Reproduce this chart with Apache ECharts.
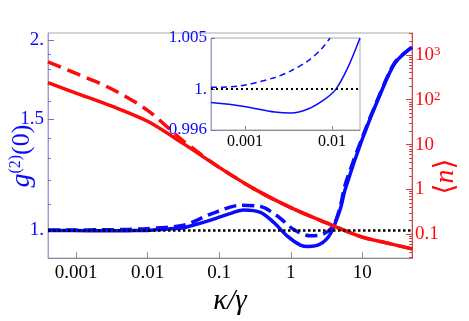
<!DOCTYPE html>
<html>
<head>
<meta charset="utf-8">
<script src="https://cdn.jsdelivr.net/npm/echarts@6/dist/echarts.min.js"></script>
<style>
  html, body { margin: 0; padding: 0; background: #fff; }
  #wrap { position: relative; width: 469px; height: 321px; }
  #chart, #inset { position: absolute; left: 0; top: 0; width: 469px; height: 321px; }
  #inset { pointer-events: none; }
</style>
</head>
<body>
<div id="wrap">
  <div id="chart"></div>
  <div id="inset"></div>
</div>
<script>
// g2(0) curves (kappa/gamma, value)
const kappaG2Solid = [0.000406, 0.0009, 0.00221, 0.00338, 0.0053, 0.0083, 0.0111, 0.0153, 0.021,
  0.032, 0.076, 0.159, 0.219, 0.378, 0.573, 0.897, 1.36, 1.76, 2.58, 3.56, 4.91, 5.75, 9.93, 17.7, 28.6, 49.4];
const g2Solid = [0.99868, 0.99835, 0.99776, 0.99766, 0.99805, 0.99902, 1.0, 1.00215, 1.005,
  1.009, 1.037, 1.067, 1.0764, 1.067, 1.0295, 0.9785, 0.947, 0.9418, 0.9504, 0.9856, 1.079, 1.16, 1.392, 1.64, 1.84, 1.95];

const kappaG2Dashed = [0.000406, 0.0009, 0.00221, 0.00338, 0.0053, 0.0075, 0.0095,
  0.032, 0.076, 0.199, 0.378, 0.65, 1.086, 1.87, 2.84, 3.92, 4.91, 5.75, 9.93, 17.7, 28.6, 49.4];
const g2Dashed = [1.00017, 1.00032, 1.00114, 1.00179, 1.00276, 1.0039, 1.005,
  1.018, 1.06, 1.095, 1.09, 1.053, 1.0036, 0.9795, 0.9856, 1.0157, 1.09, 1.18, 1.40, 1.645, 1.845, 1.95];

// mean photon number <n>
const kappaN = [0.000406, 0.001, 0.00316, 0.01, 0.0316, 0.1, 0.316, 1, 3.16, 10, 20, 49.4];
const nSolid = [240, 141, 72, 33, 10.5, 3.1, 1.0, 0.39, 0.178, 0.086, 0.066, 0.047];
const nDashed = [700, 385, 174, 58, 12, 3.1, 1.0, 0.39, 0.178, 0.086, 0.066, 0.047];

// inset uses the low-kappa part of the g2 curves
const insetSolidCount = 9;
const insetDashedCount = 7;

// ticks
const xTicks = [0.001, 0.01, 0.1, 1, 10];
const xTickLabels = ['0.001', '0.01', '0.1', '1', '10'];
const gTicks = [1, 1.5, 2];
const gTickLabels = ['1.', '1.5', '2.'];
const gMinorTicks = [1.1, 1.2, 1.3, 1.4, 1.6, 1.7, 1.8, 1.9];
const nTicks = [0.1, 1, 10, 100, 1000];
const nTickLabels = ['0.1', '1', '10', '{b|10}{s|2}', '{b|10}{s|3}'];
const insetXTicks = [0.001, 0.01];
const insetXTickLabels = ['0.001', '0.01'];
const insetYTicks = [0.996, 1, 1.005];
const insetYTickLabels = ['0.996', '1.', '1.005'];

const xMin = 0.000406, xMax = 49.4;
const gMin = 0.903, gMax = 2.053;
const nMin = 0.0293, nMax = 3080;

const BLUE = '#0a0aff';
const RED = '#ff0a0a';
const SERIF = 'Liberation Serif, DejaVu Serif, serif';

function logMinor(lo, hi) {
  const out = [];
  for (let e = -5; e <= 4; e++) {
    for (let m = 2; m <= 9; m++) {
      const v = m * Math.pow(10, e);
      if (v > lo && v < hi) out.push(v);
    }
  }
  return out;
}
function pick(values, labels) {
  return function (v) {
    for (let i = 0; i < values.length; i++) {
      if (Math.abs(values[i] - v) <= Math.abs(values[i]) * 1e-6) return labels[i];
    }
    return '';
  };
}
function pairs(xs, ys, n) {
  return xs.slice(0, n || xs.length).map((x, i) => [x, ys[i]]);
}

const dotted = {
  silent: true,
  symbol: ['none', 'none'],
  label: { show: false },
  lineStyle: { color: '#000', type: [2.5, 2.5], width: 2.5 },
  data: [{ yAxis: 1 }]
};

// main panel
const chart = echarts.init(document.getElementById('chart'), null, { renderer: 'canvas' });
chart.setOption({
  animation: false,
  backgroundColor: '#fff',
  grid: { left: 47, top: 33, width: 365, height: 226, show: true, borderColor: '#a8a8a8', borderWidth: 1 },
  xAxis: {
    type: 'log', min: xMin, max: xMax,
    axisLine: { onZero: false, lineStyle: { color: '#8a8aa0', width: 1 } },
    axisTick: { inside: true, length: 6, customValues: xTicks, lineStyle: { color: '#8a8aa0' } },
    axisLabel: { customValues: xTicks, formatter: pick(xTicks, xTickLabels), color: '#000', fontFamily: SERIF, fontSize: 19, margin: 5 },
    splitLine: { show: false },
    name: 'κ/γ', nameLocation: 'middle', nameGap: 26,
    nameTextStyle: { color: '#000', fontFamily: SERIF, fontStyle: 'italic', fontSize: 29 }
  },
  yAxis: [
    {
      type: 'log', min: gMin, max: gMax, position: 'left',
      axisLine: { onZero: false, lineStyle: { color: '#9c9ce6', width: 1 } },
      axisTick: { inside: true, length: 6, customValues: gTicks, lineStyle: { color: '#7070c0' } },
      axisLabel: { customValues: gTicks, formatter: pick(gTicks, gTickLabels), color: BLUE, fontFamily: SERIF, fontSize: 19, margin: 4 },
      splitLine: { show: false },
      name: '{g|g}{s|(2)}{p|(0)}', nameLocation: 'middle', nameRotate: 90, nameGap: 12, nameMoveOverlap: false,
      nameTextStyle: {
        color: BLUE, fontFamily: SERIF, padding: [0, 21, 0, 0],
        rich: {
          g: { color: BLUE, fontFamily: SERIF, fontStyle: 'italic', fontSize: 28 },
          s: { color: BLUE, fontFamily: SERIF, fontSize: 16, verticalAlign: 'top' },
          p: { color: BLUE, fontFamily: SERIF, fontSize: 26 }
        }
      }
    },
    {
      type: 'log', min: gMin, max: gMax, position: 'left',
      axisLine: { show: false, onZero: false },
      axisTick: { inside: true, length: 3, customValues: gMinorTicks, lineStyle: { color: '#7070c0' } },
      axisLabel: { show: false }, splitLine: { show: false }
    },
    {
      type: 'log', min: nMin, max: nMax, position: 'right',
      axisLine: { onZero: false, lineStyle: { color: '#d84040', width: 1 } },
      axisTick: { inside: true, length: 6, customValues: nTicks, lineStyle: { color: '#d84040' } },
      axisLabel: {
        customValues: nTicks, formatter: pick(nTicks, nTickLabels), color: RED, fontFamily: SERIF, fontSize: 19, margin: 3,
        rich: {
          b: { color: RED, fontFamily: SERIF, fontSize: 19 },
          s: { color: RED, fontFamily: SERIF, fontSize: 13, verticalAlign: 'top' }
        }
      },
      splitLine: { show: false },
      name: '{b|⟨}{n|n}{b|⟩}', nameLocation: 'middle', nameRotate: 90, nameGap: 20, nameMoveOverlap: false,
      nameTextStyle: {
        color: RED, padding: [0, 62, 0, 0],
        rich: {
          b: { color: RED, fontFamily: SERIF, fontSize: 28 },
          n: { color: RED, fontFamily: SERIF, fontStyle: 'italic', fontSize: 28 }
        }
      }
    },
    {
      type: 'log', min: nMin, max: nMax, position: 'right',
      axisLine: { show: false, onZero: false },
      axisTick: { inside: true, length: 3, customValues: logMinor(nMin, nMax), lineStyle: { color: '#d84040' } },
      axisLabel: { show: false }, splitLine: { show: false }
    }
  ],
  series: [
    {
      type: 'line', yAxisIndex: 0, data: pairs(kappaG2Solid, g2Solid),
      smooth: 0.3, showSymbol: false, lineStyle: { color: BLUE, width: 3.5 }, z: 2,
      markLine: dotted
    },
    {
      type: 'line', yAxisIndex: 0, data: pairs(kappaG2Dashed, g2Dashed),
      smooth: 0.3, showSymbol: false, lineStyle: { color: BLUE, width: 3.5, type: [12, 6] }, z: 2
    },
    {
      type: 'line', yAxisIndex: 2, data: pairs(kappaN, nSolid),
      smooth: 0.3, showSymbol: false, lineStyle: { color: RED, width: 3.5 }, z: 3
    },
    {
      type: 'line', yAxisIndex: 2, data: pairs(kappaN, nDashed),
      smooth: 0.3, showSymbol: false, lineStyle: { color: RED, width: 3.5, type: [14, 7] }, z: 3
    }
  ]
});

// inset panel (own instance, drawn on top)
const inset = echarts.init(document.getElementById('inset'), null, { renderer: 'canvas' });
inset.setOption({
  animation: false,
  grid: { left: 211, top: 38, width: 149, height: 92, show: true, backgroundColor: '#fff', borderColor: '#a8a8a8', borderWidth: 1 },
  xAxis: {
    type: 'log', min: xMin, max: 0.021,
    axisLine: { onZero: false, lineStyle: { color: '#8a8aa0', width: 1 } },
    axisTick: { inside: true, length: 4, customValues: insetXTicks, lineStyle: { color: '#8a8aa0' } },
    axisLabel: { customValues: insetXTicks, formatter: pick(insetXTicks, insetXTickLabels), color: '#000', fontFamily: SERIF, fontSize: 16, margin: 4 },
    splitLine: { show: false }
  },
  yAxis: {
    type: 'value', min: 0.996, max: 1.005,
    axisLine: { onZero: false, lineStyle: { color: '#9c9ce6', width: 1 } },
    axisTick: { inside: true, length: 4, customValues: insetYTicks, lineStyle: { color: '#7070c0' } },
    axisLabel: { customValues: insetYTicks, formatter: pick(insetYTicks, insetYTickLabels), color: BLUE, fontFamily: SERIF, fontSize: 17, margin: 4 },
    splitLine: { show: false }
  },
  series: [
    {
      type: 'line', data: pairs(kappaG2Solid, g2Solid, insetSolidCount),
      smooth: 0.3, showSymbol: false, lineStyle: { color: BLUE, width: 1.5 }
    },
    {
      type: 'line', data: pairs(kappaG2Dashed, g2Dashed, insetDashedCount),
      smooth: 0.3, showSymbol: false, lineStyle: { color: BLUE, width: 1.5, type: [6, 4] },
      markLine: Object.assign({}, dotted, { lineStyle: { color: '#000', type: [2, 3], width: 2 } })
    }
  ]
});

window.addEventListener('resize', function () { chart.resize(); inset.resize(); });
</script>
</body>
</html>
